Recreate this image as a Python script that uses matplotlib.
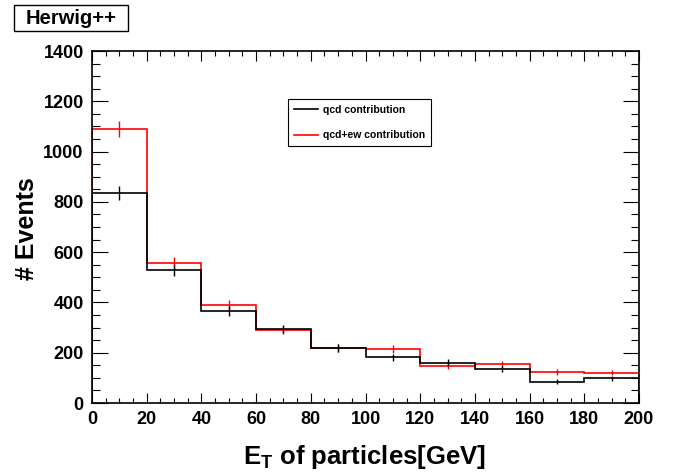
import matplotlib
matplotlib.use('Agg')
import matplotlib.pyplot as plt
import matplotlib.patches as patches
import numpy as np

# bin edges in E_T [GeV]
edges = [0, 20, 40, 60, 80, 100, 120, 140, 160, 180, 200]
centers = [10, 30, 50, 70, 90, 110, 130, 150, 170, 190]

# event counts per bin
qcd = [835, 527, 365, 295, 219, 181, 161, 135, 85, 99]
qcd_err = [29, 23, 19, 17, 15, 13, 13, 12, 9, 10]
qcd_ew = [1090, 557, 389, 290, 219, 215, 147, 155, 123, 121]
qcd_ew_err = [33, 24, 20, 17, 15, 15, 12, 12, 11, 11]

plt.rcParams['font.family'] = ['Liberation Sans', 'DejaVu Sans']
plt.rcParams['font.weight'] = 'bold'
plt.rcParams['mathtext.fontset'] = 'custom'
plt.rcParams['mathtext.rm'] = 'Liberation Sans:bold'
plt.rcParams['mathtext.bf'] = 'Liberation Sans:bold'

fig = plt.figure(figsize=(6.73, 4.76), dpi=100)
ax = fig.add_axes([92 / 673, 1 - 403 / 476, 547 / 673, 352 / 476])

# red first, black drawn on top
ax.stairs(qcd_ew, edges, color='red', lw=1.2, label='qcd+ew contribution')
ax.errorbar(centers, qcd_ew, yerr=qcd_ew_err, fmt='none', ecolor='red', elinewidth=1.0, capsize=0)
ax.stairs(qcd, edges, color='black', lw=1.2, label='qcd contribution')
ax.errorbar(centers, qcd, yerr=qcd_err, fmt='none', ecolor='black', elinewidth=1.0, capsize=0)

ax.set_xlim(0, 200)
ax.set_ylim(0, 1400)
ax.set_xticks(np.arange(0, 201, 20))
ax.set_xticks(np.arange(0, 201, 5), minor=True)
ax.set_yticks(np.arange(0, 1401, 200))
ax.set_yticks(np.arange(0, 1401, 50), minor=True)
ax.tick_params(axis='both', which='both', direction='in', top=True, right=True, labelsize=13, width=0.8)
ax.tick_params(axis='x', which='major', length=7.2, pad=6)
ax.tick_params(axis='x', which='minor', length=3.6)
ax.tick_params(axis='y', which='major', length=11.5, pad=6)
ax.tick_params(axis='y', which='minor', length=5.8)
for lab in ax.get_xticklabels() + ax.get_yticklabels():
    lab.set_fontweight('bold')
for sp in ax.spines.values():
    sp.set_linewidth(1.2)

fig.text(365 / 673, 1 - 464 / 476, r'E$_{\mathrm{T}}$ of particles[GeV]', fontsize=18.5,
         fontweight='bold', ha='center', va='baseline')
fig.text(34 / 673, 1 - 229 / 476, '# Events', fontsize=18, fontweight='bold',
         rotation=90, ha='center', va='baseline', rotation_mode='anchor')

# legend box
handles, labels = ax.get_legend_handles_labels()
leg = ax.legend(handles[::-1], labels[::-1], loc='upper left', bbox_to_anchor=(0.358, 0.864),
                fontsize=7.5, frameon=True, fancybox=False, edgecolor='black', framealpha=1,
                handlelength=2.3, handletextpad=0.5, labelspacing=1.5, borderpad=0.55, borderaxespad=0)
leg.get_frame().set_linewidth(0.8)
for t in leg.get_texts():
    t.set_fontweight('bold')

# title box
fig.patches.append(patches.Rectangle((14 / 673, 1 - 31 / 476), 114 / 673, 26 / 476,
                                     transform=fig.transFigure, facecolor='white',
                                     edgecolor='black', lw=1.0))
fig.text(71 / 673, 1 - 18 / 476, 'Herwig++', fontsize=14.5, fontweight='bold',
         ha='center', va='center')

fig.savefig('out.png', dpi=100)
